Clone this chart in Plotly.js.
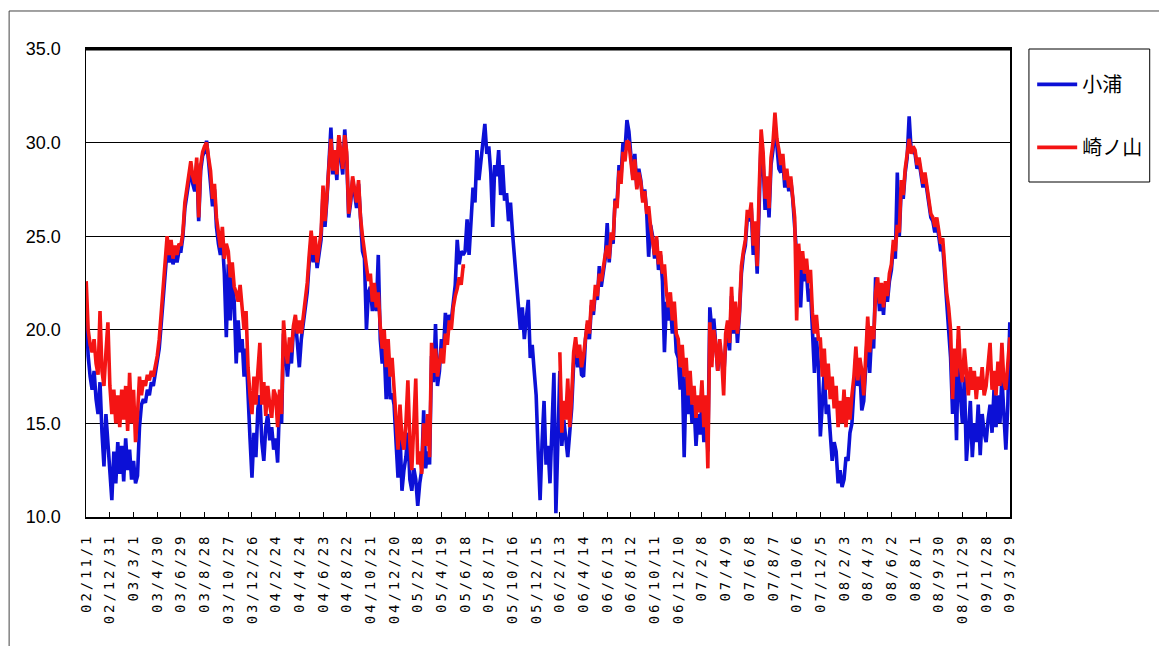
<!DOCTYPE html>
<html><head><meta charset="utf-8">
<script src="https://cdn.plot.ly/plotly-3.0.1.min.js"></script>
<style>
html,body{margin:0;padding:0;background:#fff;}
#chart{width:1159px;height:646px;}
.xtick text{letter-spacing:2.9px;}
</style></head><body><div id="chart"></div><script>
// Daily water temperature (°C), read every 5 days from the reference chart
const sampleStepDays = 5;      // days between samples, day 0 = 2002/11/1
const tickEveryDays = 60;      // category label interval
const tickLabels = ['02/11/1','02/12/31','03/3/1','03/4/30','03/6/29','03/8/28','03/10/27','03/12/26',
 '04/2/24','04/4/24','04/6/23','04/8/22','04/10/21','04/12/20','05/2/18','05/4/19','05/6/18','05/8/17',
 '05/10/16','05/12/15','06/2/13','06/4/14','06/6/13','06/8/12','06/10/11','06/12/10','07/2/8','07/4/9',
 '07/6/8','07/8/7','07/10/6','07/12/5','08/2/3','08/4/3','08/6/2','08/8/1','08/9/30','08/11/29','09/1/28','09/3/29'];
const yTicks = [10, 15, 20, 25, 30, 35];

// 小浦 (blue)
const koura = [
 21.0,18.6,17.5,16.8,17.8,16.3,15.5,17.2,14.5,12.7,15.5,14.0,
 12.8,10.9,13.5,11.8,14.0,12.3,13.8,11.9,14.2,12.5,13.6,12.0,
 13.0,11.8,12.2,14.8,16.0,16.3,16.1,16.8,16.5,17.2,17.0,17.6,
 18.2,19.0,20.3,21.6,22.8,24.3,23.6,24.2,23.5,24.0,23.6,24.2,
 24.2,25.0,26.5,27.2,28.0,28.6,27.8,27.4,28.9,25.8,28.5,29.3,
 29.5,30.1,29.0,28.0,26.6,27.5,25.5,24.6,24.0,24.8,23.0,19.6,
 23.5,20.5,22.8,21.5,18.2,20.5,18.8,19.5,17.5,19.0,16.0,14.2,
 12.1,14.5,13.2,15.8,16.5,14.0,13.0,14.8,15.5,14.1,14.8,13.6,
 14.2,12.9,16.2,15.0,19.8,18.5,17.5,18.8,18.2,20.0,20.5,19.3,
 18.0,19.5,20.3,21.0,22.0,23.6,24.8,23.6,24.6,23.3,24.2,24.8,
 27.3,25.5,27.0,29.2,30.8,28.3,29.4,28.0,30.3,29.2,28.3,30.7,
 29.2,26.0,26.8,28.0,27.3,26.5,27.8,25.5,24.2,23.8,20.0,22.0,
 22.3,21.0,22.0,21.0,24.0,19.5,18.2,19.0,16.3,18.5,16.3,16.6,
 16.0,14.0,12.1,14.5,11.4,12.5,13.2,14.5,12.0,11.4,12.6,12.0,
 10.6,11.8,12.5,15.7,12.6,13.5,12.8,18.6,17.2,20.3,17.0,17.8,
 19.5,18.8,20.9,19.8,20.8,20.5,21.6,22.4,24.8,23.5,24.2,24.0,
 24.2,25.9,24.0,25.5,27.6,26.8,29.6,28.0,29.2,30.0,31.0,29.4,
 29.8,28.4,25.5,28.8,28.2,29.6,27.2,28.8,26.9,27.3,25.8,26.8,
 25.2,23.8,22.5,21.0,20.0,21.2,19.5,20.6,21.6,18.5,19.2,17.8,
 16.5,13.5,10.9,14.0,16.2,12.8,13.8,11.8,15.0,17.7,10.2,14.8,
 17.8,13.8,15.2,14.2,13.2,14.5,15.8,18.2,19.2,18.0,18.8,17.6,
 17.5,19.5,20.3,19.5,21.3,20.8,22.0,21.6,23.4,22.3,23.2,23.8,
 25.7,23.6,25.0,24.6,27.0,26.8,28.8,28.2,30.0,29.6,31.2,30.6,
 29.3,28.2,29.4,27.6,28.6,28.0,27.0,27.5,26.3,23.9,25.6,25.0,
 23.8,24.8,23.2,24.0,22.6,18.8,21.5,20.5,21.4,19.8,20.8,18.8,
 18.5,16.8,18.0,13.2,17.5,15.5,16.8,15.0,16.0,13.8,15.5,14.4,
 16.2,14.0,15.8,13.5,21.2,20.0,20.6,19.0,17.8,19.2,18.2,17.5,
 19.2,20.2,18.9,21.8,19.8,21.2,19.3,20.8,23.0,24.0,24.5,26.0,
 25.8,26.5,24.0,25.3,23.0,27.0,30.2,29.0,26.4,27.8,26.0,28.8,
 29.6,31.0,29.8,28.6,28.4,29.0,27.6,28.4,27.4,28.0,27.0,25.6,
 24.0,23.8,21.2,23.5,22.6,23.0,21.5,22.2,19.5,17.7,19.6,18.2,
 14.3,16.5,17.8,15.5,16.0,14.5,13.0,14.0,13.5,11.8,12.5,11.6,
 12.0,13.2,13.0,14.5,15.0,16.8,18.6,17.0,17.8,15.7,16.2,18.0,
 20.2,17.7,19.8,19.0,22.8,22.4,21.0,22.2,20.8,22.4,21.5,22.6,
 23.2,24.5,23.8,28.4,25.0,27.6,27.0,28.4,29.2,31.4,29.6,29.5,
 29.4,28.6,29.0,28.3,27.6,28.2,27.4,26.8,26.0,25.8,25.2,25.8,
 25.0,24.2,24.5,23.0,21.5,20.6,18.5,15.5,17.8,14.1,19.5,16.5,
 15.0,17.5,13.0,14.5,16.2,13.2,15.0,14.0,16.0,13.3,15.5,14.5,
 14.0,15.2,16.0,14.5,16.8,14.8,16.5,15.0,17.5,15.5,13.6,16.0,
 20.4
];

// 崎ノ山 (red) — no data from 2005/6 to 2006/2
const sakinoyama = [
 22.6,20.0,19.2,18.8,19.5,18.2,17.6,21.0,17.8,17.0,18.8,20.4,
 17.0,15.5,16.8,15.0,16.5,14.8,16.8,15.2,17.0,14.6,17.7,15.0,
 16.8,14.0,15.5,17.5,16.5,17.3,17.0,17.6,17.3,17.8,17.5,18.0,
 18.6,19.5,20.8,22.0,23.5,25.0,24.0,24.8,23.8,24.5,24.0,24.6,
 24.5,25.2,26.8,27.6,28.5,29.0,28.2,27.8,29.2,26.0,28.8,29.5,
 29.8,30.0,29.2,28.5,27.0,27.8,26.0,25.2,24.4,25.5,23.8,24.6,
 24.2,22.8,23.6,22.3,22.0,21.5,22.4,21.2,20.0,21.0,18.0,16.5,
 15.5,17.5,16.0,17.8,19.3,16.0,17.2,15.4,17.0,16.0,15.3,16.8,
 16.5,14.8,16.8,15.5,20.5,19.0,18.2,19.6,18.8,20.2,20.8,19.8,
 20.5,19.8,20.8,21.5,22.5,24.0,25.3,24.0,25.0,23.6,24.5,25.2,
 27.7,25.8,27.2,29.0,30.2,28.5,29.6,28.3,30.4,29.5,28.6,30.4,
 29.5,26.2,27.0,28.2,27.5,26.8,28.0,26.0,25.0,24.0,23.4,22.6,
 23.0,21.5,22.5,21.2,22.0,20.2,19.0,20.0,18.0,19.5,17.5,18.5,
 16.6,15.5,13.6,16.0,14.2,13.6,15.0,17.3,14.0,12.5,14.8,17.4,
 12.8,13.5,12.3,15.0,13.8,15.5,13.2,19.3,17.7,19.0,17.5,18.2,
 19.0,18.2,19.8,19.2,20.5,20.0,21.2,21.8,22.2,22.8,22.4,23.4,
 23.4,null,null,null,null,null,null,null,null,null,null,null,
 null,null,null,null,null,null,null,null,null,null,null,null,
 null,null,null,null,null,null,null,null,null,null,null,null,
 null,null,null,null,null,null,null,null,null,null,null,null,
 18.8,14.5,16.2,15.2,17.4,14.8,16.5,18.8,19.6,18.5,19.2,18.0,
 18.6,19.8,20.5,19.8,21.6,21.0,22.4,21.8,23.0,22.6,23.5,24.0,
 24.5,23.8,25.2,24.8,26.9,26.5,28.5,27.8,29.5,29.0,30.1,30.0,
 29.0,28.0,29.1,27.5,28.4,27.9,26.8,27.4,26.2,26.6,25.5,24.8,
 24.0,25.0,23.5,24.2,23.0,23.5,22.0,21.2,22.0,20.5,21.5,19.8,
 19.5,18.0,19.2,17.5,18.5,16.5,17.8,16.0,17.0,15.3,16.5,15.6,
 17.3,14.8,16.5,12.6,20.4,18.0,20.0,19.2,17.8,19.5,18.5,16.5,
 19.8,20.5,19.3,22.3,20.0,21.5,19.8,21.0,23.4,24.2,24.8,26.4,
 26.0,26.8,24.5,25.8,23.4,27.5,30.7,29.5,27.0,28.2,26.5,29.2,
 30.0,31.6,30.2,29.6,28.8,29.4,28.0,28.6,27.6,28.2,27.2,26.0,
 20.5,24.6,23.2,24.2,23.0,23.8,22.5,23.2,20.9,19.8,20.8,19.5,
 19.5,17.5,19.0,16.8,18.2,16.3,17.5,15.8,17.0,14.8,16.2,15.0,
 16.8,14.8,16.4,15.2,16.5,17.5,19.1,17.3,18.5,17.8,16.5,18.8,
 20.7,18.8,20.2,19.5,22.0,22.8,21.4,22.5,21.2,22.6,21.8,23.0,
 23.5,24.8,24.2,25.6,25.2,28.0,27.2,28.6,29.6,30.2,29.4,29.8,
 29.6,28.8,29.2,28.5,27.8,28.4,27.6,27.0,26.2,26.0,25.5,26.0,
 25.2,24.6,24.9,23.4,22.0,21.2,20.0,16.3,19.0,17.5,20.2,18.0,
 17.2,19.0,17.6,16.5,18.0,16.8,17.8,16.3,17.5,16.8,18.0,16.5,
 17.0,18.0,19.3,16.8,17.8,16.5,18.3,17.0,19.3,17.2,16.8,18.2,
 19.6
];

const dayOf = (_, i) => i * sampleStepDays;
const tickVals = tickLabels.map((_, i) => i * tickEveryDays);

const traces = [
  {name: '小浦', x: koura.map(dayOf), y: koura, type: 'scatter', mode: 'lines',
   line: {color: '#0c10d6', width: 3.6}, connectgaps: false, legendgroup: 'a'},
  {name: '崎ノ山', x: sakinoyama.map(dayOf), y: sakinoyama, type: 'scatter', mode: 'lines',
   line: {color: '#f41414', width: 3.6}, connectgaps: false, legendgroup: 'b'}
];

const layout = {
  width: 1159, height: 646,
  margin: {l: 86, r: 147, t: 49, b: 129, pad: 0},
  paper_bgcolor: '#ffffff', plot_bgcolor: '#ffffff',
  font: {family: 'Liberation Sans, Arial, sans-serif', color: '#000'},
  showlegend: true,
  legend: {x: 1.024, y: 0.966, xanchor: 'left', yanchor: 'top', borderwidth: 0,
    bgcolor: 'rgba(0,0,0,0)', tracegroupgap: 34, traceorder: 'grouped', itemwidth: 40,
    font: {family: 'Noto Sans CJK JP, sans-serif', size: 20, color: '#000'}},
  xaxis: {
    range: [-0.5, (tickLabels.length - 1) * tickEveryDays + 0.5],
    tickmode: 'array', tickvals: tickVals, ticktext: tickLabels, tickangle: -90,
    ticks: 'inside', ticklen: 5, tickwidth: 1, tickcolor: '#000',
    ticklabelstandoff: 9,
    tickfont: {family: 'DejaVu Sans Mono, Liberation Mono, monospace', size: 14, color: '#000'},
    showgrid: false, zeroline: false, showline: true, linecolor: '#000', linewidth: 2, mirror: true
  },
  yaxis: {
    range: [10, 35], tickmode: 'array', tickvals: yTicks, tickformat: '.1f',
    ticks: '', ticklabelstandoff: 20,
    tickfont: {family: 'Liberation Sans, Arial, sans-serif', size: 18, color: '#000'},
    showgrid: true, gridcolor: '#000', gridwidth: 1, zeroline: false,
    showline: true, linecolor: '#000', linewidth: 1.5, mirror: true
  },
  shapes: [
    {type: 'line', xref: 'paper', yref: 'paper', x0: 0, x1: 1, y0: 1, y1: 1, line: {color: '#000', width: 3}},
    {type: 'rect', xref: 'paper', yref: 'paper', x0: 1.0205, x1: 1.1512, y0: 0.7158, y1: 1.0,
     line: {color: '#000', width: 1}},
    {type: 'rect', xref: 'paper', yref: 'paper', x0: -0.0832, x1: 1.3, y0: -0.4, y1: 1.0812,
     line: {color: '#444', width: 1}}
  ]
};

Plotly.newPlot('chart', traces, layout, {displayModeBar: false, staticPlot: true});
</script></body></html>
